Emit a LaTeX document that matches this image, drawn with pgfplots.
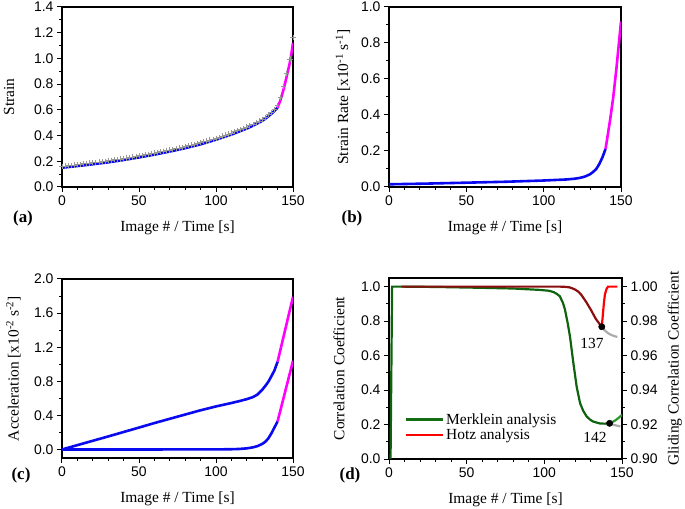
\documentclass[border=0pt]{standalone}
\usepackage{fontspec}
\setmainfont{Liberation Serif}
\setsansfont{Liberation Sans}
\usepackage{pgfplots}
\usepackage{pgfplotstable}
\pgfplotsset{compat=1.18}

\definecolor{cblue}{RGB}{10,10,240}
\definecolor{cmag}{RGB}{255,0,255}
\definecolor{dgreen}{RGB}{14,100,14}
\definecolor{bgreen}{RGB}{40,150,40}
\definecolor{dred}{RGB}{140,15,15}
\definecolor{bred}{RGB}{255,0,0}
\definecolor{cgrey}{RGB}{150,150,150}

% Strain (a): x, fit, measured
\pgfplotstableread{
x y m
0 0.150 0.160
2 0.152 0.163
4 0.155 0.166
6 0.157 0.168
8 0.160 0.171
10 0.163 0.174
12 0.165 0.177
14 0.168 0.180
16 0.171 0.183
18 0.174 0.186
20 0.177 0.189
22 0.180 0.192
24 0.183 0.195
26 0.186 0.198
28 0.189 0.201
30 0.192 0.204
32 0.196 0.208
34 0.199 0.211
36 0.203 0.215
38 0.206 0.218
40 0.210 0.222
42 0.214 0.226
44 0.218 0.230
46 0.222 0.234
48 0.226 0.238
50 0.230 0.242
52 0.234 0.246
54 0.238 0.250
56 0.243 0.255
58 0.247 0.259
60 0.252 0.264
62 0.257 0.269
64 0.261 0.273
66 0.266 0.278
68 0.271 0.283
70 0.276 0.288
72 0.281 0.293
74 0.286 0.298
76 0.291 0.303
78 0.297 0.309
80 0.302 0.314
82 0.308 0.320
84 0.314 0.326
86 0.320 0.332
88 0.326 0.338
90 0.332 0.344
92 0.339 0.351
94 0.346 0.358
96 0.353 0.365
98 0.360 0.372
100 0.368 0.380
102 0.376 0.388
104 0.384 0.396
106 0.392 0.404
108 0.400 0.412
110 0.408 0.420
112 0.417 0.429
114 0.426 0.438
116 0.435 0.447
118 0.445 0.457
120 0.455 0.467
122 0.466 0.478
124 0.477 0.489
126 0.489 0.501
128 0.501 0.513
130 0.515 0.527
132 0.531 0.543
134 0.550 0.562
136 0.570 0.582
138 0.592 0.605
140 0.618 0.632
142 0.680 0.695
144 0.765 0.782
146 0.865 0.885
148 0.970 0.995
150 1.120 1.160
}\strain

\begin{document}
\begin{tikzpicture}
\path[use as bounding box] (0,0) rectangle (685bp,509bp);

\pgfplotsset{
  myax/.style={
    scale only axis,
    xmin=0, xmax=150,
    xtick={0,50,100,150},
    minor x tick num=4,
    tick align=outside,
    xtick pos=bottom, ytick pos=left,
    major tick length=5bp, minor tick length=3bp,
    axis line style={line width=1.1bp},
    every tick/.append style={black, line width=1bp},
    tick label style={font=\fontsize{14}{16}\selectfont\sffamily},
    /pgf/number format/assume math mode=true,
    y tick label style={/pgf/number format/fixed, /pgf/number format/fixed zerofill, /pgf/number format/precision=1},
    xlabel={Image \# / Time [s]},
    every axis x label/.style={at={(axis description cs:0.5,-0.228)}, anchor=center, font=\fontsize{15.5}{18}\selectfont},
  },
  ylab/.style={every axis y label/.style={at={(axis description cs:#1,0.5)}, rotate=90, anchor=center, font=\fontsize{15.5}{18}\selectfont}},
  bl/.style={cblue, line width=2.6bp},
  mg/.style={cmag, line width=2.6bp},
}

% ---------------- (a)
\begin{axis}[myax, at={(62bp,322bp)}, anchor=south west, width=231bp, height=180bp,
  ymin=0, ymax=1.4, ytick={0,0.2,...,1.4}, minor y tick num=1,
  ylabel={Strain}, ylab=-0.229]
\addplot[cgrey, only marks, mark=+, mark size=2.6bp, mark options={line width=0.8bp}] table[x=x,y=m] {\strain};
\addplot[bl] table[x=x,y=y] {
x y
0 0.150
10 0.163
20 0.177
30 0.192
40 0.210
50 0.230
60 0.252
70 0.276
80 0.302
90 0.332
100 0.368
110 0.408
120 0.455
124 0.477
128 0.501
130 0.515
132 0.531
134 0.550
136 0.570
138 0.592
140 0.618
};
\addplot[mg] table {
x y
140 0.618
142 0.680
144 0.765
146 0.865
148 0.970
149 1.040
150 1.120
};
\end{axis}

% ---------------- (b)
\begin{axis}[myax, at={(389bp,322bp)}, anchor=south west, width=232bp, height=180bp,
  ymin=0, ymax=1.0, ytick={0,0.2,...,1.0}, minor y tick num=1,
  ylabel={Strain Rate [x10\textsuperscript{-1} s\textsuperscript{-1}]}, ylab=-0.198]
\addplot[bl] table {
x y
0 0.015
25 0.019
50 0.024
75 0.029
100 0.036
110 0.040
115 0.042
120 0.046
123 0.050
126 0.056
128 0.063
130 0.071
132 0.084
134 0.100
136 0.128
138 0.165
140 0.211
};
\addplot[mg] table {
x y
140 0.211
141 0.265
143 0.375
145 0.500
147 0.655
149 0.830
150 0.920
};
\end{axis}

% ---------------- (c)
\begin{axis}[myax, at={(62bp,51bp)}, anchor=south west, width=231bp, height=179bp,
  ymin=-0.1, ymax=2.0, ytick={0,0.4,...,2.0}, minor y tick num=1,
  ylabel={Acceleration [x10\textsuperscript{-2} s\textsuperscript{-2}]}, ylab=-0.21]
\addplot[bl] table {
x y
0 0.0
10 0.051
20 0.102
30 0.153
40 0.205
50 0.257
60 0.310
70 0.360
80 0.410
90 0.460
100 0.505
110 0.545
115 0.567
120 0.590
124 0.615
127 0.645
130 0.700
132 0.745
134 0.795
136 0.860
138 0.930
140 1.030
};
\addplot[mg] table {
x y
140 1.030
145 1.410
150 1.790
};
\addplot[bl] table {
x y
0 0.0
50 0.0
100 0.001
110 0.003
115 0.006
120 0.013
124 0.025
127 0.040
130 0.065
132 0.090
134 0.130
136 0.190
138 0.260
140 0.330
};
\addplot[mg] table {
x y
140 0.330
145 0.685
150 1.040
};
\end{axis}

% ---------------- (d) right axis
\begin{axis}[myax, at={(389bp,50bp)}, anchor=south west, width=233bp, height=181bp,
  axis x line=none, axis y line*=right, ytick pos=right,
  xlabel={},
  ymin=0.9, ymax=1.005, ytick={0.90,0.92,...,1.001}, minor y tick num=1,
  y tick label style={/pgf/number format/fixed, /pgf/number format/fixed zerofill, /pgf/number format/precision=2},
  ylabel={Gliding Correlation Coefficient}, ylab=1.227]
\end{axis}

% ---------------- (d) main axis
\begin{axis}[myax, at={(389bp,50bp)}, anchor=south west, width=233bp, height=181bp,
  ymin=0, ymax=1.05, ytick={0,0.2,...,1.0}, minor y tick num=1,
  ylabel={Correlation Coefficient}, ylab=-0.215,
  legend style={draw=none, fill=none, font=\fontsize{15.5}{18}\selectfont,
    at={(axis description cs:0.055,0.275)}, anchor=north west, legend cell align=left,
    row sep=-1bp},
  legend image code/.code={\draw[#1] (0bp,0bp) -- (37bp,0bp);}]
\addlegendimage{dgreen!80!bgreen, line width=2.2bp}
\addlegendentry{Merklein analysis}
\addlegendimage{bred, line width=2.2bp}
\addlegendentry{Hotz analysis}
% Merklein
\addplot[dgreen, line width=2.2bp, forget plot] table {
x y
1 0.0
2 1.0
8 1.0
30 0.998
60 0.993
80 0.989
97 0.981
103 0.976
106 0.968
108 0.958
110 0.944
112 0.905
113.3 0.866
115 0.790
116.5 0.711
118.7 0.556
120.8 0.420
123 0.324
125 0.280
127.3 0.246
129.5 0.228
131.5 0.217
135.8 0.206
139 0.205
142 0.207
};
\addplot[bgreen, line width=2.2bp, forget plot] table {
x y
142 0.207
144 0.215
146 0.226
148 0.240
150 0.256
};
\addplot[cgrey!80, line width=2.2bp, forget plot] table {
x y
142 0.207
144 0.200
146 0.195
148 0.191
149 0.189
};
% Hotz
\addplot[dred, line width=2.2bp, forget plot] table {
x y
8 1.0
60 1.0
110 1.0
113 0.999
116 0.996
118 0.990
120 0.982
122 0.970
124 0.950
127 0.910
130 0.865
133 0.815
135 0.790
137 0.767
};
\addplot[bred, line width=2.2bp, forget plot] table {
x y
137 0.767
137.6 0.830
138.3 0.900
139 0.955
140 0.985
141 1.0
147 1.0
};
\addplot[cgrey!80, line width=2.2bp, forget plot] table {
x y
137 0.767
139 0.745
141 0.730
143 0.720
145 0.713
147 0.708
};
\addplot[black, only marks, mark=*, mark size=3.2bp, forget plot] coordinates {(137,0.767) (142,0.207)};
\node[font=\fontsize{15.5}{18}\selectfont] at (axis cs:130.7,0.669) {137};
\node[font=\fontsize{15.5}{18}\selectfont] at (axis cs:132.6,0.128) {142};
\end{axis}

% panel labels
\node[font=\fontsize{17}{20}\selectfont\bfseries] at (23bp,291bp) {(a)};
\node[font=\fontsize{17}{20}\selectfont\bfseries] at (352bp,291bp) {(b)};
\node[font=\fontsize{17}{20}\selectfont\bfseries] at (21bp,34bp) {(c)};
\node[font=\fontsize{17}{20}\selectfont\bfseries] at (350bp,34bp) {(d)};
\end{tikzpicture}
\end{document}
